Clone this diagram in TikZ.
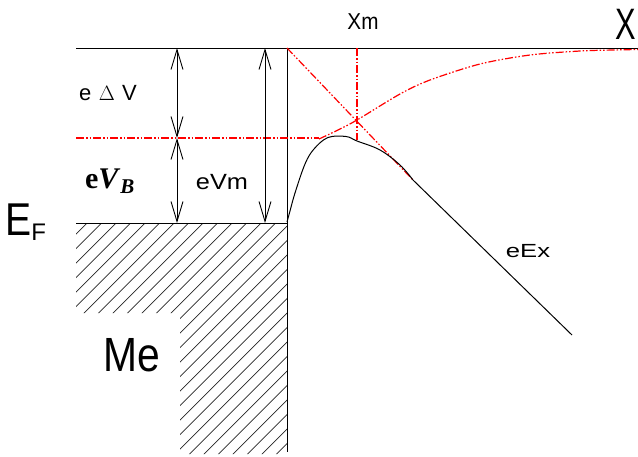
\documentclass[tikz,border=0pt]{standalone}
\usepackage{fontspec}
\setmainfont{Liberation Serif}
\setsansfont{Liberation Sans}
\usetikzlibrary{arrows.meta}
\begin{document}
\begin{tikzpicture}[x=1pt,y=-1pt,
  lbl/.style={font=\sffamily, inner sep=0pt, anchor=center},
  redline/.style={red, line width=1.2pt, dash pattern=on 8pt off 2pt on 1.5pt off 2pt on 1.5pt off 2pt},
  blk/.style={black, line width=1pt},
  hatchline/.style={black!85, line width=0.7pt},
  dimarrow/.style={line width=0.9pt, {Straight Barb[length=20pt,width=12pt]}-{Straight Barb[length=20pt,width=12pt]}},
]
\useasboundingbox (0,0) rectangle (638,456);
% key points
\coordinate (TL) at (76,48);
\coordinate (TR) at (638,48);
\coordinate (W0) at (287,48);
\coordinate (W1) at (287,452);
\coordinate (FL) at (76,223);
\coordinate (FR) at (287,223);
\coordinate (BL) at (76,138);
\coordinate (BR) at (319,138);
\coordinate (A0) at (177,48);
\coordinate (A1) at (177,138);
\coordinate (A2) at (177,223);
\coordinate (M0) at (265,48);
\coordinate (M1) at (265,223);
\coordinate (XM0) at (357,48);
\coordinate (XM1) at (357,140);
\coordinate (T0) at (413,180);
\coordinate (T1) at (572,335);

% hatching of the metal
\begin{scope}
  \clip (76,223) -- (287,223) -- (287,454) -- (180,454) -- (180,313) -- (76,313) -- cycle;
  \foreach \c in {-400,-385.5,...,320} \draw[hatchline] (\c+76,460) -- (\c+76+470,-10);
\end{scope}

% black lines
\draw[blk] (TL) -- (TR);
\draw[blk] (W0) -- (W1);
\draw[blk] (FL) -- (FR);

% red construction lines
\draw[redline] (BL) -- (BR);
\draw[redline] (XM0) -- (XM1);
\draw[redline] (W0) -- (T0);
\draw[redline] plot[smooth] coordinates {(319,139) (338,130) (357,120) (400,94) (430,80) (480,64) (530,55) (580,51) (613,50) (638,49.5)};

% potential curve
\draw[blk] plot[smooth, tension=0.6] coordinates {(287,222) (290,211) (295,193) (305,164) (314,149) (328,137.5) (346,136.5) (357,141) (380,150) (400,165) (413,180)} -- (T1);

% dimension arrows
\draw[dimarrow] (A0) -- (A1);
\draw[dimarrow] (A1) -- (A2);
\draw[dimarrow] (M0) -- (M1);

% labels
\node[lbl, font=\sffamily\fontsize{22}{22}\selectfont] (ldv) at (108,93) {e\,\,$\Delta$\,\,V};
\node[lbl, font=\bfseries\fontsize{30}{30}\selectfont] (lvb) at (110,181) {e\textit{V}\textsubscript{\textit{B}}};
\node[lbl, font=\sffamily\fontsize{22}{22}\selectfont] (lvm) at (222,182) {\scalebox{1.15}[1]{eVm}};
\node[lbl, font=\sffamily\fontsize{23}{23}\selectfont] (lxm) at (363,22) {\scalebox{0.9}[1]{Xm}};
\node[lbl, font=\sffamily\fontsize{44}{44}\selectfont, anchor=east] (lx) at (636,24) {\scalebox{0.7}[1]{X}};
\node[lbl, font=\sffamily\fontsize{46}{46}\selectfont, anchor=base west] (lef) at (5,235) {\scalebox{0.85}[1]{E}\raisebox{-5pt}{\fontsize{24}{24}\selectfont F}};
\node[lbl, font=\sffamily\fontsize{48}{48}\selectfont] (lme) at (132,355) {\scalebox{0.85}[1]{Me}};
\node[lbl, font=\sffamily\fontsize{19}{19}\selectfont] (lex) at (528,251) {\scalebox{1.35}[1]{eEx}};
\end{tikzpicture}
\end{document}
